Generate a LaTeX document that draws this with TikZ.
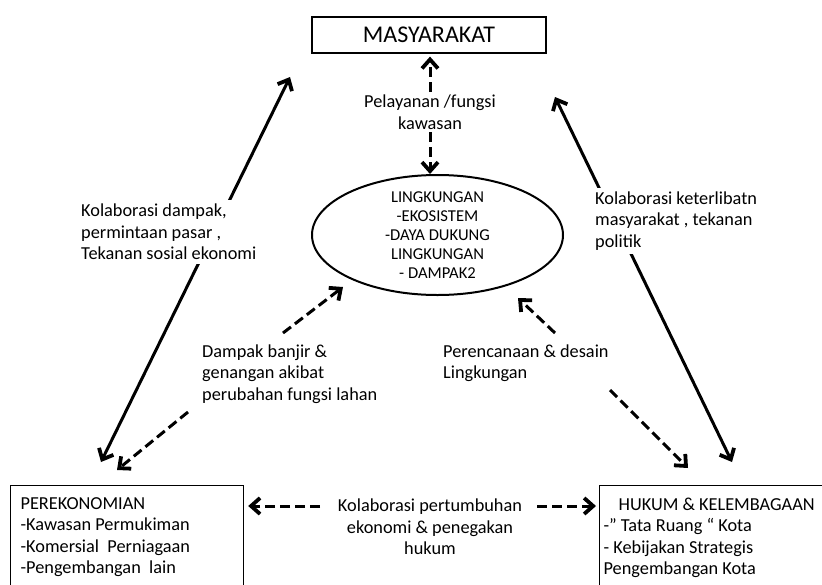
\documentclass[tikz,border=0pt]{standalone}
\usepackage{fontspec}
\setmainfont{Carlito}
\usetikzlibrary{shapes,arrows.meta,positioning}

\begin{document}
\begin{tikzpicture}[x=1pt, y=-1pt,
    every node/.style={font=\fontsize{18.3}{21.5}\selectfont},
    box/.style={draw, line width=1.2pt, align=flush left, anchor=north west, inner ysep=12pt},
    lbl/.style={align=left, anchor=west, fill=white, inner sep=4pt},
    solidarrow/.style={line width=3pt, {Straight Barb[length=9pt,width=16pt,line width=3.8pt]}-{Straight Barb[length=9pt,width=16pt,line width=3.8pt]}},
    dasharrow/.style={line width=3pt, dash pattern=on 10pt off 5pt, -{Straight Barb[length=9pt,width=16pt,line width=3.8pt]}}]
    \useasboundingbox (0,0) rectangle (822,584);

    % Top box and environment
    \node[draw, line width=1.2pt, minimum width=234pt, minimum height=36pt, font=\fontsize{24}{28}\selectfont] (masy) at (429,35) {MASYARAKAT};
    \node[draw, ellipse, line width=2pt, minimum width=251pt, minimum height=120pt] (ling) at (437.5,235) {};
    \node[align=center, font=\fontsize{16.6}{19}\selectfont] (lingtxt) at (ling.center) {LINGKUNGAN\\-EKOSISTEM\\-DAYA DUKUNG\\LINGKUNGAN\\- DAMPAK2};
    \node[align=center, inner sep=3pt] (pel) at (430,112) {Pelayanan /fungsi\\kawasan};
    \draw[dasharrow, shorten >=3pt] (pel.north) -- (pel.north |- masy.south);
    \draw[dasharrow] (pel.south) -- (pel.south |- ling.north);

    % Bottom boxes
    \node[box, text width=213pt, inner xsep=10pt] (perek) at (10,485) {PEREKONOMIAN\\-Kawasan Permukiman\\-Komersial~ Perniagaan\\-Pengembangan~ lain};
    \node[box, text width=240pt, inner xsep=4pt] (hukum) at (599,485) {\hspace*{15pt}HUKUM \& KELEMBAGAAN\\-” Tata Ruang “ Kota\\- Kebijakan Strategis\\Pengembangan Kota};
    \node[align=center, inner sep=2pt] (kolab) at (430,527) {Kolaborasi pertumbuhan\\ekonomi \& penegakan\\hukum};
    \coordinate (kl) at (320,506);
    \coordinate (kr) at (537,506);
    \draw[dasharrow, shorten >=4pt] (kl) -- (kl -| perek.east);
    \draw[dasharrow, shorten >=3pt] (kr) -- (kr -| hukum.west);

    % Outer arrows
    \coordinate (sl1) at (101,462);
    \coordinate (sl2) at (290,77);
    \coordinate (sr1) at (555,97);
    \coordinate (sr2) at (732,462);
    \draw[solidarrow] (sl1) -- (sl2);
    \draw[solidarrow] (sr1) -- (sr2);
    \node[lbl] (kolabL) at (77,232) {Kolaborasi dampak,\\permintaan pasar ,\\Tekanan sosial ekonomi};
    \node[lbl] (kolabR) at (591,221) {Kolaborasi keterlibatn\\masyarakat , tekanan\\politik};

    % Inner arrows
    \node[lbl] (banjir) at (198,374) {Dampak banjir \&\\genangan akibat\\perubahan fungsi lahan};
    \node[lbl] (renc) at (439,363) {Perencanaan \& desain\\Lingkungan};
    \coordinate (bj1) at (283,333);
    \coordinate (bj2) at (343,287);
    \coordinate (bj3) at (188,412);
    \coordinate (bj4) at (117,470);
    \coordinate (rc1) at (555,333);
    \coordinate (rc2) at (518,298);
    \coordinate (rc3) at (610,390);
    \coordinate (rc4) at (688,468);
    \draw[dasharrow] (bj1) -- (bj2);
    \draw[dasharrow] (bj3) -- (bj4);
    \draw[dasharrow] (rc1) -- (rc2);
    \draw[dasharrow] (rc3) -- (rc4);
\end{tikzpicture}
\end{document}
